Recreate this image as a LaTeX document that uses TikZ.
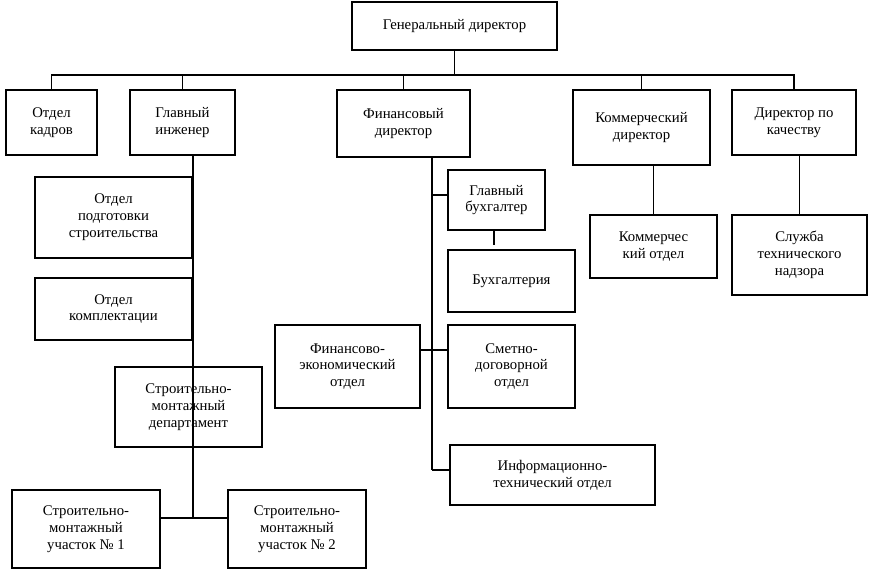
\documentclass[tikz,border=0pt]{standalone}
\usepackage{fontspec}
\setmainfont{Liberation Serif}
\begin{document}
\begin{tikzpicture}[x=0.02cm,y=-0.02cm,thick,
    box/.style={draw,line width=0.6pt,align=center,inner sep=1pt,font=\fontsize{8.4}{9.6}\selectfont},
    line/.style={line width=0.6pt}
   ]
  \useasboundingbox (0,0) rectangle (882,578);
  % top level
  \node[box,minimum width=205*0.02cm,minimum height=48*0.02cm] (gd) at (454.5,26) {Генеральный директор};
  \node[box,minimum width=91*0.02cm,minimum height=65*0.02cm] (kadr) at (51.5,122.5) {Отдел\\кадров};
  \node[box,minimum width=105*0.02cm,minimum height=65*0.02cm] (gi) at (182.5,122.5) {Главный\\инженер};
  \node[box,minimum width=133*0.02cm,minimum height=67*0.02cm] (fd) at (403.5,123.5) {Финансовый\\директор};
  \node[box,minimum width=137*0.02cm,minimum height=75*0.02cm] (kd) at (641.5,127.5) {Коммерческий\\директор};
  \node[box,minimum width=124*0.02cm,minimum height=65*0.02cm] (dk) at (794,122.5) {Директор по\\качеству};
  \coordinate (bus) at (454.5,75);
  % engineer branch
  \node[box,minimum width=157*0.02cm,minimum height=81*0.02cm] (ops) at (113.5,217.5) {Отдел\\подготовки\\строительства};
  \node[box,minimum width=157*0.02cm,minimum height=62*0.02cm] (ok) at (113.5,309) {Отдел\\комплектации};
  \node[box,minimum width=147*0.02cm,minimum height=80*0.02cm] (smd) at (188.5,407) {Строительно-\\монтажный\\департамент};
  \node[box,minimum width=148*0.02cm,minimum height=78*0.02cm] (u1) at (86,529) {Строительно-\\монтажный\\участок № 1};
  \node[box,minimum width=138*0.02cm,minimum height=78*0.02cm] (u2) at (297,529) {Строительно-\\монтажный\\участок № 2};
  \coordinate (gl) at (193,155);
  \coordinate (ul) at (193,518);
  % finance branch
  \node[box,minimum width=97*0.02cm,minimum height=60*0.02cm] (gb) at (496.5,200) {Главный\\бухгалтер};
  \node[box,minimum width=127*0.02cm,minimum height=62*0.02cm] (bux) at (511.5,281) {Бухгалтерия};
  \node[box,minimum width=145*0.02cm,minimum height=83*0.02cm] (feo) at (347.5,366.5) {Финансово-\\экономический\\отдел};
  \node[box,minimum width=127*0.02cm,minimum height=83*0.02cm] (sdo) at (511.5,366.5) {Сметно-\\договорной\\отдел};
  \node[box,minimum width=205*0.02cm,minimum height=60*0.02cm] (ito) at (552.5,475) {Информационно-\\технический отдел};
  \coordinate (fl) at (432,157);
  % other branches
  \node[box,minimum width=127*0.02cm,minimum height=63*0.02cm] (ko) at (653.5,246.5) {Коммерчес\\кий отдел};
  \node[box,minimum width=135*0.02cm,minimum height=80*0.02cm] (stn) at (799.5,255) {Служба\\технического\\надзора};
  % connectors
  \draw[line] (gd.south) -- (bus);
  \draw[line] (kadr.north) -- (kadr.north |- bus) -- (dk.north |- bus) -- (dk.north);
  \draw[line] (gi.north) -- (gi.north |- bus);
  \draw[line] (fd.north) -- (fd.north |- bus);
  \draw[line] (kd.north) -- (kd.north |- bus);
  \draw[line] (gl) -- (ul);
  \draw[line] (ops.east |- 0,208) -- (193,208);
  \draw[line] (ok.east |- 0,300) -- (193,300);
  \draw[line] (u1.east |- ul) -- (u2.west |- ul);
  \draw[line] (fl) -- (432,470);
  \draw[line] (gb.west |- 0,195) -- (432,195);
  \draw[line] (494,230) -- (494,245);
  \draw[line] (feo.east |- 0,350) -- (sdo.west |- 0,350);
  \draw[line] (ito.west |- 0,470) -- (432,470);
  \draw[line] (kd.south -| ko.north) -- (ko.north);
  \draw[line] (dk.south -| stn.north) -- (stn.north);
\end{tikzpicture}
\end{document}
